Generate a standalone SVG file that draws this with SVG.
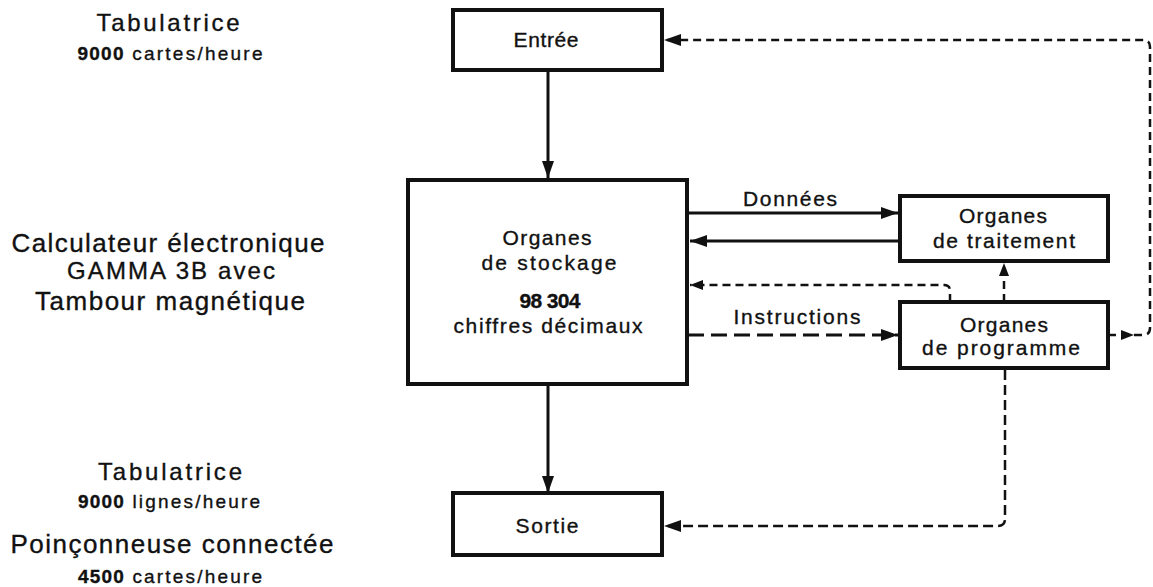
<svg xmlns="http://www.w3.org/2000/svg" width="1153" height="587" viewBox="0 0 1153 587">
<style>
text{font-family:"Liberation Sans",Arial,sans-serif;fill:#111;stroke:#111;stroke-width:0.35;text-anchor:middle}
.box{fill:#fff;stroke:#111;stroke-width:4}
.lbl{font-size:24px}
.big{font-size:26px}
.sub{font-size:19px}
.nt{font-size:21px}
.solid{fill:none;stroke:#111;stroke-width:3}
.dash{fill:none;stroke:#111;stroke-width:2.5;stroke-dasharray:8 5}
.dlong{fill:none;stroke:#111;stroke-width:3;stroke-dasharray:16 7}
.dmed{fill:none;stroke:#111;stroke-width:2.5;stroke-dasharray:10 5}
</style>
<defs>
<marker id="ah" markerUnits="userSpaceOnUse" markerWidth="17" markerHeight="12" refX="17" refY="6" orient="auto"><path d="M0,0 L17,6 L0,12 z" fill="#111"/></marker>
<marker id="ahs" markerUnits="userSpaceOnUse" markerWidth="13" markerHeight="10" refX="13" refY="5" orient="auto"><path d="M0,0 L13,5 L0,10 z" fill="#111"/></marker>
</defs>

<g id="labels">
<text class="lbl" x="168" y="31" textLength="143" lengthAdjust="spacing">Tabulatrice</text>
<text class="sub" x="170" y="60" textLength="185" lengthAdjust="spacing"><tspan font-weight="bold" letter-spacing="-1">9000</tspan> cartes/heure</text>
<text class="big" x="168" y="252" textLength="313" lengthAdjust="spacing">Calculateur électronique</text>
<text class="lbl" x="171" y="279" textLength="208" lengthAdjust="spacing">GAMMA 3B avec</text>
<text class="big" x="170" y="310" textLength="270" lengthAdjust="spacing">Tambour magnétique</text>
<text class="lbl" x="170" y="480" textLength="144" lengthAdjust="spacing">Tabulatrice</text>
<text class="sub" x="169" y="508" textLength="182" lengthAdjust="spacing"><tspan font-weight="bold" letter-spacing="-1">9000</tspan> lignes/heure</text>
<text class="big" x="172" y="553" textLength="323" lengthAdjust="spacing">Poinçonneuse connectée</text>
<text class="sub" x="170" y="583" textLength="184" lengthAdjust="spacing"><tspan font-weight="bold" letter-spacing="-1">4500</tspan> cartes/heure</text>
</g>

<g id="connectors">
<path class="solid" d="M548,72 V178" marker-end="url(#ah)"/>
<path class="solid" d="M548,386 V493" marker-end="url(#ah)"/>
<path class="solid" d="M688,213 H898" marker-end="url(#ah)"/>
<path class="solid" d="M900,241 H690" marker-end="url(#ah)"/>
<path class="dlong" d="M688,335 H898" marker-end="url(#ah)"/>
<path class="dash" d="M950,302 V291 Q950,285 944,285 H690" marker-end="url(#ahs)"/>
<path class="dash" d="M1004,302 V263" marker-end="url(#ahs)"/>
<path class="dash" d="M1108,335 H1134" marker-end="url(#ahs)"/>
<path class="dash" d="M1134,335 H1143 Q1150,335 1150,328 V47 Q1150,40 1143,40 H664" marker-end="url(#ah)"/>
<path class="dmed" d="M1005,370 V519 Q1005,526 998,526 H664" marker-end="url(#ah)"/>
<text class="nt" x="790" y="206" textLength="94" lengthAdjust="spacing">Données</text>
<text class="nt" x="797" y="324" textLength="127" lengthAdjust="spacing">Instructions</text>
</g>

<g id="entree">
<rect class="box" x="453" y="10" width="209" height="60"/>
<text class="nt" x="546" y="47" textLength="65" lengthAdjust="spacing">Entrée</text>
</g>

<g id="stockage">
<rect class="box" x="408" y="180" width="279" height="204"/>
<text class="nt" x="547" y="245" textLength="89" lengthAdjust="spacing">Organes</text>
<text class="nt" x="549" y="270" textLength="135" lengthAdjust="spacing">de  stockage</text>
<text class="nt" x="550" y="308" font-weight="bold" textLength="61" lengthAdjust="spacing">98 304</text>
<text class="nt" x="548" y="333" textLength="189" lengthAdjust="spacing">chiffres décimaux</text>
</g>

<g id="traitement">
<rect class="box" x="900" y="196" width="208" height="65"/>
<text class="nt" x="1003" y="223" textLength="88" lengthAdjust="spacing">Organes</text>
<text class="nt" x="1004" y="248" textLength="142" lengthAdjust="spacing">de traitement</text>
</g>

<g id="programme">
<rect class="box" x="900" y="302" width="208" height="66"/>
<text class="nt" x="1004" y="332" textLength="88" lengthAdjust="spacing">Organes</text>
<text class="nt" x="1001" y="355" textLength="158" lengthAdjust="spacing">de  programme</text>
</g>

<g id="sortie">
<rect class="box" x="453" y="493" width="209" height="62"/>
<text class="nt" x="547" y="533" textLength="63" lengthAdjust="spacing">Sortie</text>
</g>
</svg>
